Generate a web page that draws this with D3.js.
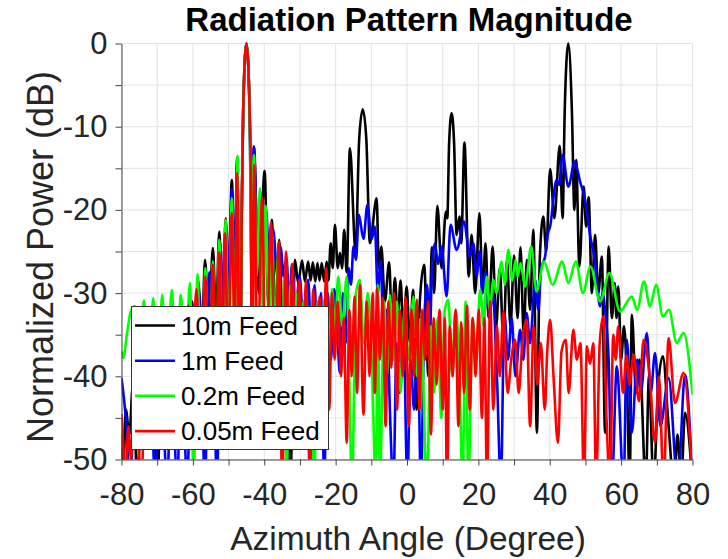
<!DOCTYPE html>
<html><head><meta charset="utf-8">
<script src="https://cdn.jsdelivr.net/npm/d3@7"></script>
<style>body{margin:0;background:#fff;} text{font-family:"Liberation Sans",Arial,Helvetica,sans-serif;}</style>
</head>
<body>
<svg id="c" width="728" height="559"></svg>
<script>
const chartTitle = "Radiation Pattern Magnitude";
const xLabel = "Azimuth Angle (Degree)";
const yLabel = "Normalized Power (dB)";
const seriesNames = ["10m Feed", "1m Feed", "0.2m Feed", "0.05m Feed"];
const seriesColors = ["#000000", "#0000ff", "#00ff00", "#ff0000"];
const xTicks = [-80,-70,-60,-50,-40,-30,-20,-10,0,10,20,30,40,50,60,70,80];
const xTickLabels = [-80,-60,-40,-20,0,20,40,60,80];
const yTicks = [-50,-45,-40,-35,-30,-25,-20,-15,-10,-5,0];
const yTickLabels = [-50,-40,-30,-20,-10,0];

// [azimuth deg, dB]  (peaks and nulls)
const black10m = [
[-80,-47],[-79.6,-53],[-78.8,-44],[-77.8,-47],[-76.8,-41],[-75.5,-53],[-74.3,-40],[-73.1,-45],[-72,-38],[-71,-44],[-69.9,-53],[-68.8,-37],[-67.6,-44],[-66.4,-36],[-65.2,-43],[-64.1,-34.5],[-63,-42],[-62,-33],[-61,-40],[-60.2,-31],[-59.4,-38],[-58.5,-28.5],[-57.5,-36],[-56.6,-26],[-55.5,-34],[-54.4,-24.6],[-53.5,-33],[-52.6,-22.6],[-51.7,-32],[-50.8,-21],[-50,-30],[-49.1,-16.4],[-48.3,-28],[-47.6,-13.8],[-46.8,-45],[-46.3,-20],[-45.9,-8],[-45,0],[-44.1,-8],[-43.7,-20],[-43.4,-40],[-42.9,-12.4],[-41.5,-30],[-39.9,-15.3],[-38.9,-31],[-37.9,-21.2],[-36.9,-33],[-35.8,-23.6],[-34.8,-34],[-33.7,-25.8],[-32.7,-53],[-31.4,-26],[-30.5,-28.8],[-29.4,-26.1],[-28.6,-28.6],[-27.7,-26.2],[-27.0,-28.5],[-26.4,-26.3],[-25.7,-28.6],[-25.1,-26.4],[-24.5,-28.5],[-23.9,-26.4],[-23.2,-28.6],[-22.5,-26.2],[-22.0,-28.5],[-21.4,-24],[-20.8,-27],[-20.2,-21.8],[-19.4,-27],[-18.8,-25.2],[-18.2,-27],[-17.6,-22.4],[-16.9,-27.5],[-16.0,-12.6],[-14.4,-25],[-13.4,-11.5],[-12.4,-7.9],[-11.4,-11.5],[-10.4,-24],[-8.5,-18.6],[-7.9,-27],[-7.2,-24.4],[-6.2,-31],[-5.0,-26.3],[-4.2,-34],[-3.4,-28.2],[-2.6,-33],[-1.8,-28.5],[-1.0,-35],[-0.1,-29.2],[0.8,-36],[1.7,-29.6],[2.7,-44],[3.6,-31],[4.8,-26.6],[6.0,-40],[7.0,-24.5],[7.6,-30],[8.5,-19.5],[9.7,-27],[10.9,-20.2],[11.3,-21],[11.8,-12],[12.5,-8.4],[13.2,-12],[13.9,-23],[14.7,-20.8],[15.2,-24],[16.1,-11.9],[17.3,-28],[18.1,-23],[19.1,-30],[20.3,-20.4],[21.2,-30],[22.0,-24],[22.9,-33],[24.0,-24.4],[25.0,-34],[26.0,-27],[27.0,-36],[28.0,-26],[29.0,-34],[30.0,-25.5],[31.0,-33],[31.8,-24.5],[32.7,-35],[33.6,-26],[34.5,-32],[35.4,-22.4],[36.4,-46.8],[37.2,-26],[38.2,-20.8],[39.0,-25],[40.1,-15.1],[41.3,-21],[42.8,-12.3],[43.6,-21],[44.2,-8],[45.2,0],[46.2,-8],[46.9,-20],[47.4,-14.0],[48.3,-26.8],[49.5,-17.2],[50.2,-22],[50.9,-18.5],[51.8,-30],[52.7,-23],[53.6,-30],[54.6,-25.6],[55.5,-46.8],[56.5,-24.4],[57.4,-33],[58.2,-28.8],[58.7,-33],[59.2,-29.2],[60.0,-38],[60.8,-34],[61.6,-40],[62.4,-53],[63.0,-32.6],[64.2,-42],[65.2,-38],[66.9,-53],[67.8,-40],[69.1,-53],[70.4,-41],[71.7,-37.6],[73.3,-46],[74.8,-53],[75.8,-47],[76.8,-53],[77.9,-44.4],[80,-53]
];
const blue1m = [
[-80,-40.2],[-78.8,-45],[-77.6,-53],[-76.5,-44],[-75.3,-48],[-74.2,-42],[-73.1,-47],[-72,-40],[-70.5,-53],[-69.3,-40],[-68.3,-45],[-67.2,-53],[-66,-38],[-64.4,-53],[-63.2,-36],[-61.6,-53],[-60.3,-33],[-59.2,-40],[-58.2,-30],[-56.6,-53],[-55.4,-27.5],[-54.4,-35],[-53.2,-53],[-52.3,-24],[-51.4,-33],[-50.6,-22],[-49.8,-30],[-49.1,-17.5],[-48.3,-30],[-47.6,-14.5],[-46.8,-40],[-46.3,-20],[-45.9,-8],[-45,0],[-44.1,-8],[-43.8,-20],[-43.6,-28],[-42.9,-12.4],[-41.9,-25],[-40.9,-18],[-40.2,-24],[-39.5,-20],[-38.6,-26],[-37.5,-22.4],[-36.3,-28],[-35.4,-24.5],[-34.6,-28],[-33.9,-26],[-33.0,-31],[-32.2,-26.5],[-31.2,-32],[-30.1,-28],[-29.1,-33],[-27.7,-28.4],[-26.8,-36],[-25.9,-29],[-25,-38],[-24.1,-30],[-23.2,-53],[-22.2,-30],[-21.3,-38],[-20.4,-29.5],[-19.5,-35],[-18.8,-39.6],[-18,-30],[-17.1,-36],[-16.3,-27],[-15.7,-29],[-15.0,-24.4],[-14.3,-26],[-13.5,-20.6],[-12.2,-23.5],[-11.1,-19.4],[-9.9,-23.5],[-9.0,-22],[-8.2,-30],[-7.4,-26],[-6.5,-36],[-5.6,-32],[-4.8,-44],[-3.8,-53],[-2.9,-36],[-2,-42],[-1,-34],[0.1,-53],[1.0,-38],[2,-44],[3,-36],[3.9,-53],[4.8,-34],[5.6,-29],[6.4,-35],[7.0,-27],[7.8,-24],[8.7,-26.5],[9.7,-24.4],[11.1,-30.4],[12.2,-21.8],[13.9,-24.8],[16.0,-21.4],[17.6,-25.6],[18.6,-24.0],[19.5,-28],[20.3,-25],[21.1,-30],[22,-27.5],[23,-33],[24,-30],[25.2,-40],[26.3,-53],[27.3,-32.4],[28.3,-38],[29.3,-33],[30.4,-40],[31.7,-34.4],[32.6,-38],[33.5,-32.4],[34.5,-36],[35.9,-28.4],[36.8,-32],[37.6,-27],[38.7,-25.6],[39.4,-23],[40.1,-22],[41.9,-16.4],[42.6,-17],[43.6,-13.4],[45.2,-17.2],[47.0,-14.2],[48.5,-16.6],[49.9,-18.8],[51.3,-23],[52.7,-26.3],[54.1,-31.6],[54.8,-30],[55.5,-32],[56.5,-38],[57.4,-53],[58.8,-38.8],[60.7,-53],[61.6,-35.6],[63.0,-46.8],[64.5,-38],[65.5,-42],[67.2,-34.8],[68.3,-42],[69.5,-37.2],[71,-46],[73.3,-40.2],[75.9,-53],[77.9,-39.8],[80,-53]
];
const green02m = [
[-80,-37],[-79.5,-37.8],[-78.5,-35],[-77.4,-32.2],[-76.2,-31.6],[-75,-36],[-73.7,-30.9],[-72.4,-40],[-71.1,-30.6],[-69.9,-42],[-68.6,-30.2],[-67.3,-40],[-65.9,-29.6],[-64.6,-44],[-63.4,-30.2],[-62.1,-38],[-60.8,-28.8],[-59.8,-53],[-58.7,-27.7],[-57.6,-45],[-56.5,-27.0],[-55.4,-44],[-54.4,-26.2],[-53.5,-42],[-52.6,-23.6],[-51.7,-40],[-50.8,-21.2],[-50,-38],[-49.1,-18.6],[-48.3,-35],[-47.5,-13.5],[-46.8,-45],[-46.3,-20],[-45.9,-8],[-45,0],[-44.1,-8],[-43.9,-15],[-43.7,-26.5],[-42.9,-13.4],[-42.1,-28],[-41.2,-17.4],[-40.4,-32],[-39.6,-19.5],[-38.7,-34],[-37.9,-22.6],[-37,-36],[-36.1,-25],[-35.2,-40],[-34.3,-28],[-33.8,-53],[-32.7,-29],[-31.8,-40],[-30.9,-30],[-30,-38],[-29,-31],[-28,-42],[-27,-32],[-26,-53],[-25,-31],[-24,-36],[-23,-30.5],[-22,-38],[-21,-29.5],[-20.1,-35],[-19.3,-28],[-18.1,-34],[-16.9,-28],[-15.4,-53],[-14.3,-30],[-13.2,-28.4],[-12.1,-36],[-11,-30],[-9.9,-38],[-8.7,-53],[-8.2,-29],[-7.6,-53],[-6.4,-31],[-5.6,-40],[-4.8,-30.2],[-3.8,-38],[-2.8,-31],[-1.8,-42],[-0.7,-32],[0.5,-38],[1.8,-30.4],[2.8,-40],[3.8,-33],[5.6,-53],[6.7,-34],[7.6,-42],[8.6,-33],[9.6,-45],[10.6,-32],[11.6,-30.8],[12.6,-40],[13.6,-32],[14.6,-38],[15.6,-53],[16.4,-31],[17.2,-53],[18.4,-33],[19.4,-38],[20.5,-29.6],[21.5,-34],[22.3,-28],[23.2,-32],[24.2,-28.4],[25.1,-30],[26.5,-26.2],[27.4,-29],[28.4,-24.8],[29.5,-28.5],[30.4,-26],[31.0,-28],[31.8,-26.4],[33.1,-29.2],[34.8,-24.4],[36.3,-29.8],[38.4,-26.2],[40.8,-29],[43.5,-26.2],[45.2,-28.8],[47.3,-26.2],[49.3,-30],[51.4,-26.8],[54.1,-31],[56.7,-27.6],[59.7,-32.2],[63.0,-30.4],[64.5,-32],[66.4,-28.6],[68.1,-31.6],[69.8,-29.0],[71.7,-32.8],[73.4,-32],[75.6,-36],[77.5,-34.8],[80,-42.2]
];
const red005m = [
[-80,-44.5],[-79.4,-49],[-78.8,-53],[-78.1,-46],[-77.3,-50],[-76.4,-42],[-75.4,-47],[-74.4,-53],[-73.4,-40],[-72.4,-46],[-71.4,-38],[-70.4,-45],[-69.4,-37],[-68.4,-44],[-67.4,-35.5],[-66.4,-43],[-65.4,-34],[-64.4,-42],[-63.4,-33],[-62.4,-40],[-61.3,-31.5],[-60.2,-40],[-59.0,-29.5],[-57.8,-42],[-56.5,-28],[-55.4,-40],[-54.4,-26.6],[-53.5,-40],[-52.6,-25.1],[-51.8,-38],[-51,-22.8],[-50.1,-38],[-49.1,-20.4],[-48.3,-35],[-47.6,-15.6],[-46.8,-45],[-46.3,-20],[-45.9,-8],[-45,0],[-44.1,-8],[-43.7,-20],[-43.4,-45],[-42.8,-14.6],[-41.9,-40],[-40.6,-18.5],[-39.6,-42],[-38.1,-21.5],[-37.0,-44],[-35.9,-23.8],[-35.0,-53],[-33.9,-25],[-33.0,-40],[-32.1,-26.5],[-31.2,-42],[-30.2,-28.4],[-29.2,-39],[-28.3,-28.5],[-27.2,-53],[-26.3,-29.5],[-25.3,-38],[-24.5,-30.4],[-23.6,-42],[-22.6,-27],[-21.8,-44],[-21,-30],[-20.3,-38],[-19.4,-31],[-18.5,-40],[-17.7,-33],[-16.9,-48],[-16.1,-32],[-15.5,-40],[-14.7,-30.4],[-14.0,-42],[-13.2,-29],[-12.2,-44.6],[-11.3,-31],[-10.5,-40],[-9.6,-30],[-9.0,-42],[-8.4,-29.4],[-7.6,-38],[-6.8,-30.5],[-6,-46],[-5.2,-31],[-4.4,-39],[-3.6,-30],[-2.8,-44],[-2,-32],[-1.2,-40],[-0.4,-30.5],[0.5,-46],[1.3,-32],[2,-40],[2.7,-30.8],[3.5,-44],[4.3,-32],[5.1,-38],[5.9,-31],[6.7,-47],[7.5,-33],[8.3,-41],[9.1,-32],[10.0,-44],[10.6,-33],[11.2,-53],[12,-34],[12.8,-40],[13.6,-32],[14.4,-46],[15.2,-33.5],[16,-42],[16.8,-31.5],[17.6,-44],[18.4,-33],[19.2,-40],[20.1,-32],[21.0,-45],[21.7,-33],[22.4,-53],[23.3,-31],[24.2,-44],[25.2,-34],[26,-40],[27,-32.2],[28.2,-42],[29.2,-38],[30.3,-35.6],[31.3,-42],[32.3,-36],[33.5,-33.2],[34.5,-46],[35.5,-34],[36.5,-41],[37.5,-36],[38.6,-44],[39.3,-37],[40.1,-33.2],[41.1,-40.4],[42.3,-48],[43.3,-37],[44.5,-35.6],[45.3,-42],[46.6,-34.4],[47.6,-38],[48.6,-36],[49.6,-53],[50.4,-36.4],[51.3,-38.5],[52.2,-36],[53.0,-53],[54.0,-36],[55.0,-32.8],[55.9,-45],[56.9,-53],[57.8,-35],[58.5,-38],[59.2,-34],[60.5,-42],[61.5,-37.5],[62.3,-41],[63.5,-37.4],[65,-43],[66.3,-35.6],[68,-40],[69.5,-48],[70.6,-40],[71.9,-53],[73.3,-35.4],[75.1,-43.2],[77.5,-39.6],[80,-53]
];
const seriesData = [black10m, blue1m, green02m, red005m];

const svg = d3.select("#c");
const x = d3.scaleLinear().domain([-80, 80]).range([121.5, 692.5]);
const y = d3.scaleLinear().domain([-50, 0]).range([459.5, 43.5]);
const tickFont = 31;

// grid
const grid = svg.append("g").attr("stroke", "#e3e3e3").attr("stroke-width", 1);
grid.selectAll(".gx").data(xTicks).join("line")
  .attr("x1", d => x(d)).attr("x2", d => x(d)).attr("y1", y(-50)).attr("y2", y(0));
grid.selectAll(".gy").data(yTicks).join("line")
  .attr("x1", x(-80)).attr("x2", x(80)).attr("y1", d => y(d)).attr("y2", d => y(d));

// lines
svg.append("defs").append("clipPath").attr("id", "clip").append("rect")
  .attr("x", x(-80)).attr("y", y(0) - 4).attr("width", x(80) - x(-80)).attr("height", y(-50) - y(0) + 4);
const line = d3.line().x(d => x(d[0])).y(d => y(d[1])).curve(d3.curveMonotoneX);
svg.append("g").attr("clip-path", "url(#clip)")
  .selectAll("path").data(seriesData).join("path")
  .attr("d", line).attr("fill", "none")
  .attr("stroke", (d, i) => seriesColors[i]).attr("stroke-width", 2.6)
  .attr("stroke-linejoin", "round");

// axes
const fmt = d => String(d);
const ax = svg.append("g").attr("transform", `translate(0,${y(-50)})`)
  .call(d3.axisBottom(x).tickValues(xTicks).tickSize(6).tickSizeOuter(0).tickPadding(17)
    .tickFormat(d => xTickLabels.includes(d) ? fmt(d) : ""));
const ay = svg.append("g").attr("transform", `translate(${x(-80)},0)`)
  .call(d3.axisLeft(y).tickValues(yTicks).tickSize(6).tickSizeOuter(0).tickPadding(8)
    .tickFormat(d => yTickLabels.includes(d) ? fmt(d) : ""));
[ax, ay].forEach(a => {
  a.select(".domain").attr("stroke", "#444");
  a.selectAll(".tick line").attr("stroke", "#444");
  a.selectAll("text").attr("font-size", tickFont).attr("fill", "#262626")
   .attr("font-family", '"Liberation Sans", Arial, sans-serif');
});

// title & labels
svg.append("text").attr("x", 409).attr("y", 31).attr("text-anchor", "middle")
  .attr("font-size", 33).attr("font-weight", "bold").attr("fill", "#000").text(chartTitle);
svg.append("text").attr("x", 408).attr("y", 550).attr("text-anchor", "middle")
  .attr("font-size", 33.5).attr("fill", "#262626").text(xLabel);
svg.append("text").attr("transform", "translate(53,257) rotate(-90)").attr("text-anchor", "middle")
  .attr("font-size", 36).attr("fill", "#262626").text(yLabel);

// legend
const lg = svg.append("g");
lg.append("rect").attr("x", 131.5).attr("y", 306.5).attr("width", 197).attr("height", 143)
  .attr("fill", "#fff").attr("stroke", "#333").attr("stroke-width", 1);
const rows = lg.selectAll(".row").data(seriesNames).join("g")
  .attr("transform", (d, i) => `translate(0,${325.5 + i * 35.2})`);
rows.append("line").attr("x1", 135).attr("x2", 175).attr("y1", 0).attr("y2", 0)
  .attr("stroke", (d, i) => seriesColors[i]).attr("stroke-width", 2.6);
rows.append("text").attr("x", 181).attr("y", 0).attr("dy", "0.36em")
  .attr("font-size", 26).attr("fill", "#000").text(d => d);
</script>
</body></html>
